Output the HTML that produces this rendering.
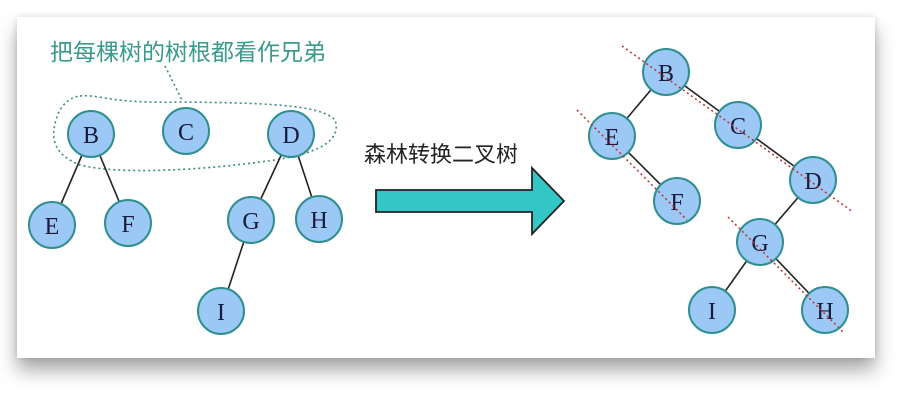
<!DOCTYPE html>
<html><head><meta charset="utf-8"><style>
html,body{margin:0;padding:0;background:#fff;}
body{width:923px;height:407px;overflow:hidden;position:relative;}
.card{position:absolute;left:17px;top:17px;width:858px;height:341px;background:#fff;box-shadow:0 12px 18px rgba(0,0,0,0.35),0 0 6px rgba(0,0,0,0.12);}
svg{position:absolute;left:0;top:0;}
</style></head><body>
<div class="card"></div>
<svg width="923" height="407" viewBox="0 0 923 407" xmlns="http://www.w3.org/2000/svg">
<g font-family="'Liberation Sans','Noto Sans CJK SC',sans-serif">
<text x="50" y="60" font-size="23" fill="#3a9a8c">把每棵树的树根都看作兄弟</text>
<text x="364" y="162" font-size="22" fill="#222">森林转换二叉树</text>
</g>
<path d="M165,66 L182,100" stroke="#3a8a84" stroke-width="1.6" stroke-dasharray="2,3" fill="none"/>
<path d="M80,96 C100,94 110,104 182,102 C260,103 320,104 335,120 C342,140 320,155 260,162 C200,170 120,175 80,165 C55,155 50,140 56,120 C60,105 70,97 80,96 Z" stroke="#3a8a84" stroke-width="1.6" stroke-dasharray="2,3" fill="none"/>
<g stroke="#222" stroke-width="1.6">
<line x1="91" y1="134" x2="52" y2="225"/><line x1="91" y1="134" x2="128" y2="223"/>
<line x1="291" y1="134" x2="251" y2="220"/><line x1="291" y1="134" x2="319" y2="219"/>
<line x1="251" y1="220" x2="221" y2="311"/>
<line x1="666" y1="72" x2="612" y2="136"/><line x1="666" y1="72" x2="738" y2="125"/>
<line x1="738" y1="125" x2="813" y2="180"/><line x1="612" y1="136" x2="677" y2="201"/>
<line x1="813" y1="180" x2="760" y2="242"/><line x1="760" y1="242" x2="712" y2="310"/>
<line x1="760" y1="242" x2="825" y2="310"/>
</g>
<path d="M376,190 L532,190 L532,168 L564,201 L532,234 L532,212 L376,212 Z" fill="#33c6c6" stroke="#222" stroke-width="1.8"/>
<g fill="#9cc8f5" stroke="#2f8f8f" stroke-width="2">
<circle cx="91" cy="134" r="23"/><circle cx="186" cy="131" r="23"/><circle cx="291" cy="134" r="23"/>
<circle cx="52" cy="225" r="23"/><circle cx="128" cy="223" r="23"/><circle cx="251" cy="220" r="23"/>
<circle cx="319" cy="219" r="23"/><circle cx="221" cy="311" r="23"/>
<circle cx="666" cy="72" r="23"/><circle cx="738" cy="125" r="23"/><circle cx="813" cy="180" r="23"/>
<circle cx="612" cy="136" r="23"/><circle cx="677" cy="201" r="23"/><circle cx="760" cy="242" r="23"/>
<circle cx="712" cy="310" r="23"/><circle cx="825" cy="310" r="23"/>
</g>
<g font-family="'Liberation Serif',serif" font-size="24" fill="#1a1a3a" text-anchor="middle">
<text x="91" y="143">B</text><text x="186" y="140">C</text><text x="291" y="143">D</text>
<text x="52" y="234">E</text><text x="128" y="232">F</text><text x="251" y="229">G</text>
<text x="319" y="228">H</text><text x="221" y="320">I</text>
<text x="666" y="81">B</text><text x="738" y="134">C</text><text x="813" y="189">D</text>
<text x="612" y="145">E</text><text x="677" y="210">F</text><text x="760" y="251">G</text>
<text x="712" y="319">I</text><text x="825" y="319">H</text>
</g>
<g stroke="#c03030" stroke-width="1.5" stroke-dasharray="2,3">
<line x1="622" y1="46" x2="853" y2="212"/>
<line x1="577" y1="110" x2="687" y2="220"/>
<line x1="728" y1="217" x2="843" y2="332"/>
</g>
</svg>
</body></html>
